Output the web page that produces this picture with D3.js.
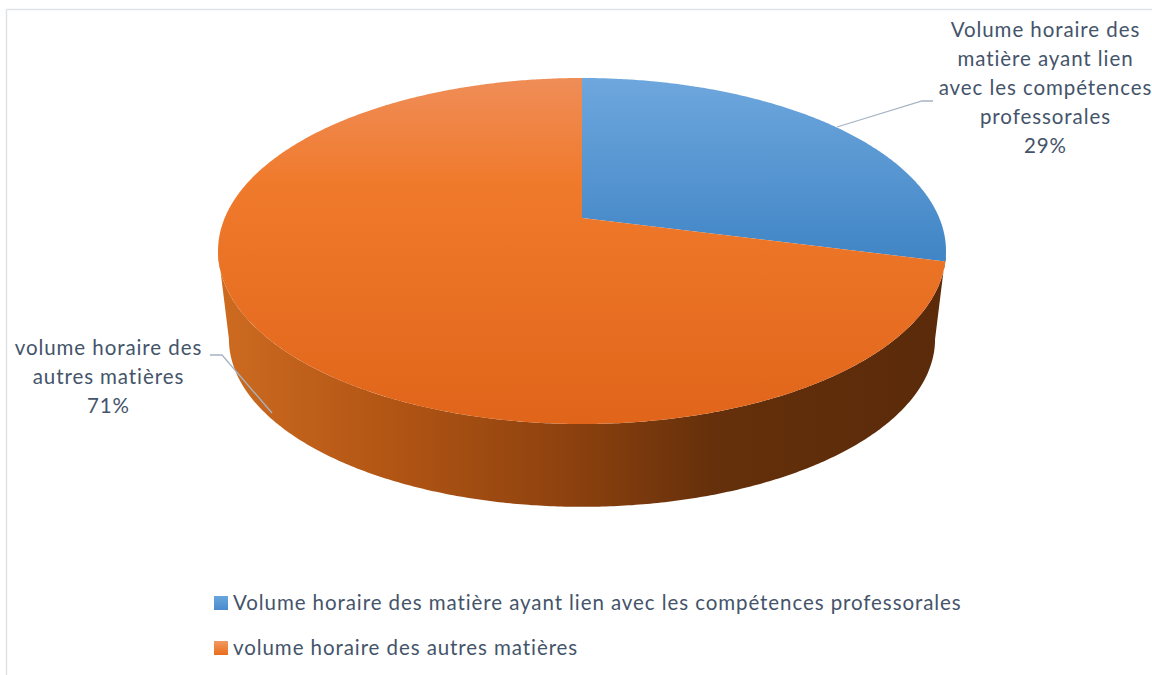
<!DOCTYPE html>
<html><head><meta charset="utf-8">
<script src="https://cdn.jsdelivr.net/npm/d3@7/dist/d3.min.js"></script>
<style>html,body{margin:0;padding:0;background:#fff;overflow:hidden}</style>
</head><body><svg id="c" width="1152" height="675"></svg>
<script>
const categories = ["Volume horaire des matière ayant lien avec les compétences professorales", "volume horaire des autres matières"];
const values = [29, 71];
const percentLabels = ["29%", "71%"];
const labelLines = [["Volume horaire des", "matière ayant lien", "avec les compétences", "professorales"], ["volume horaire des", "autres matières"]];

const svg = d3.select("#c");
const FONT = "Lato, 'Open Sans', sans-serif";
const TXT = "#44546a";

// frame
svg.append("line").attr("x1",6.5).attr("y1",9.5).attr("x2",1152).attr("y2",9.5).attr("stroke","#dfe3e8").attr("stroke-width",1.5);
svg.append("line").attr("x1",6.5).attr("y1",9.5).attr("x2",6.5).attr("y2",675).attr("stroke","#dfe3e8").attr("stroke-width",1.5);

const defs = svg.append("defs");
function vgrad(id, stops, y1, y2){
  const g = defs.append("linearGradient").attr("id",id).attr("gradientUnits","userSpaceOnUse")
    .attr("x1",0).attr("x2",0).attr("y1",y1).attr("y2",y2);
  stops.forEach(s=>g.append("stop").attr("offset",s[0]).attr("stop-color",s[1]));
}
function hgrad(id, stops, x1, x2){
  const g = defs.append("linearGradient").attr("id",id).attr("gradientUnits","userSpaceOnUse")
    .attr("y1",0).attr("y2",0).attr("x1",x1).attr("x2",x2);
  stops.forEach(s=>g.append("stop").attr("offset",s[0]).attr("stop-color",s[1]));
}
vgrad("gBlue", [[0,"#6ea7dd"],[1,"#3f84c5"]], 78, 265);
vgrad("gOrange", [[0,"#ef8d58"],[0.3,"#f07a2c"],[1,"#e0651a"]], 78, 425);
hgrad("gSide", [[0,"#cd6b20"],[0.25,"#b05414"],[0.5,"#8a400e"],[0.68,"#65300b"],[1,"#5a2a0a"]], 218, 946);
vgrad("gLegB", [[0,"#6aa6dc"],[1,"#4a8bcf"]], 596, 610);
vgrad("gLegO", [[0,"#f09a60"],[1,"#ea6c1c"]], 641, 655);

// perspective projection of the pie disc
const X0 = 582, k = -0.1908, A = 357.3, B = 166.7;
const faces = { top: {y0:218, s:1}, bottom: {y0:307, s:0.97} };
function proj(a, f){
  const u = Math.sin(a), v = -Math.cos(a), w = 1 + k*v;
  return [X0 + A*f.s*u/w, f.y0 + B*f.s*v/w];
}
function arcPts(a0, a1, f){
  const n = Math.max(2, Math.ceil(Math.abs(a1-a0)/(Math.PI/360)));
  const pts = [];
  for(let i=0;i<=n;i++) pts.push(proj(a0 + (a1-a0)*i/n, f));
  return pts;
}
const line = d3.line();
const arcs = d3.pie().sort(null).value(d=>d)(values);

// side (visible front part between silhouette extremes)
const aR = Math.acos(k), aL = 2*Math.PI - Math.acos(k);
const sidePts = arcPts(aR, aL, faces.top).concat(arcPts(aL, aR, faces.bottom));
svg.append("path").attr("d", line(sidePts) + "Z").attr("fill","url(#gSide)");

// top faces
const fills = ["url(#gBlue)", "url(#gOrange)"];
arcs.forEach((d,i)=>{
  const pts = [[X0, faces.top.y0]].concat(arcPts(d.startAngle, d.endAngle, faces.top));
  svg.append("path").attr("d", line(pts) + "Z").attr("fill", fills[i]);
});

// leader lines
svg.append("path").attr("d","M837,127L922,101L933,101").attr("fill","none").attr("stroke","#a6b4c4").attr("stroke-width",1.3);
svg.append("path").attr("d","M210,355L222,355L272,413").attr("fill","none").attr("stroke","#a6b4c4").attr("stroke-width",1.3);

// font fitting based on legend width: size fixed, letter-spacing fitted
const fs = 20.5;
const probe = svg.append("text").attr("font-family",FONT).attr("font-size",fs).text(categories[0]);
const ls = Math.max(0, (729 - probe.node().getComputedTextLength()) / categories[0].length);
probe.remove();

// data labels
const labelPos = [{x:1045, y:37}, {x:108, y:355}];
labelLines.forEach((lines,i)=>{
  const t = svg.append("text").attr("font-family",FONT).attr("font-size",fs).attr("letter-spacing",ls).attr("fill",TXT).attr("text-anchor","middle");
  lines.concat([percentLabels[i]]).forEach((s,j)=>{
    t.append("tspan").attr("x",labelPos[i].x + ls/2).attr("y",labelPos[i].y + j*29).text(s);
  });
});

// legend
const legFill = ["url(#gLegB)", "url(#gLegO)"];
categories.forEach((c,i)=>{
  const y = 596 + i*45;
  svg.append("rect").attr("x",214).attr("y",y).attr("width",14).attr("height",14).attr("fill",legFill[i]);
  svg.append("text").attr("x",233).attr("y",y+14).attr("font-family",FONT).attr("font-size",fs).attr("letter-spacing",ls).attr("fill",TXT).text(c);
});
</script></body></html>
